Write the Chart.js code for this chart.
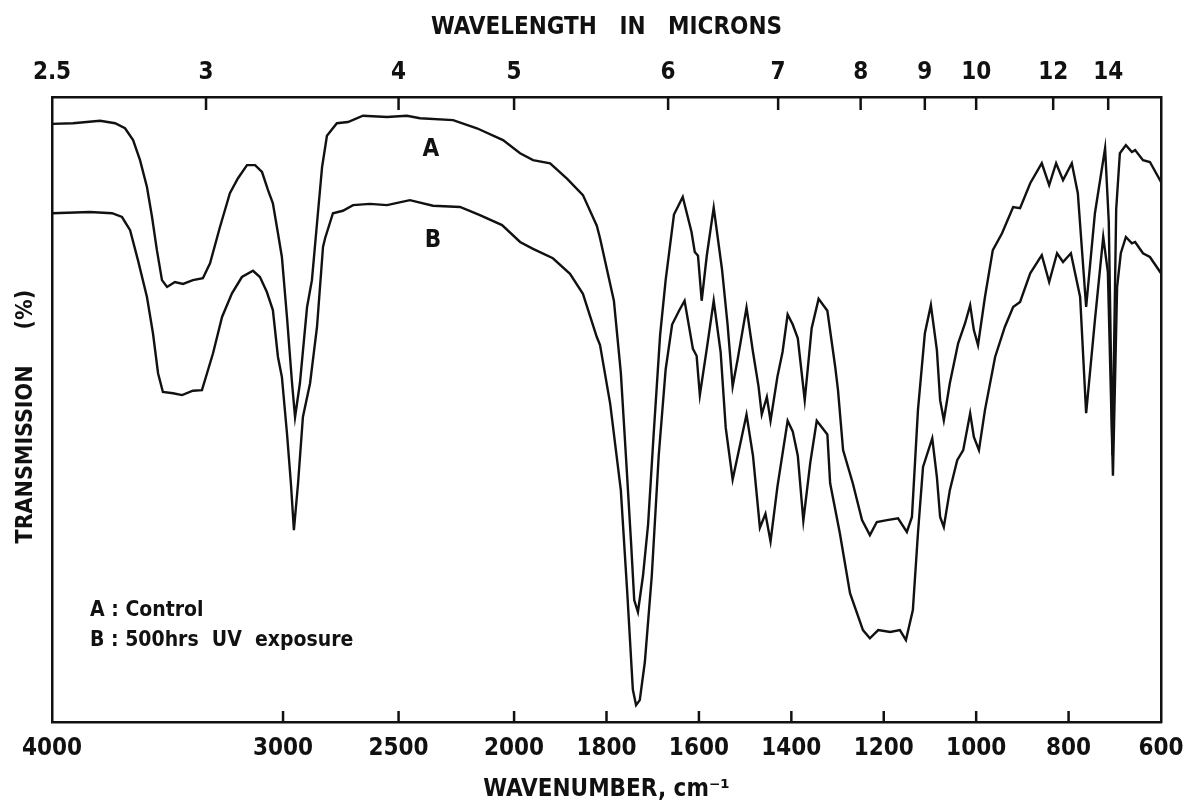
<!DOCTYPE html>
<html>
<head>
<meta charset="utf-8">
<script src="https://cdn.jsdelivr.net/npm/chart.js@4.4.0/dist/chart.umd.min.js"></script>
<style>
    html, body { margin: 0; padding: 0; background: #fff; }
    #wrap { width: 1186px; height: 812px; }
</style>
</head>
<body>
<div id="wrap"><canvas id="irChart" width="1186" height="812"></canvas></div>
<script>
// Axis ticks
const wavenumberTicks = [4000, 3000, 2500, 2000, 1800, 1600, 1400, 1200, 1000, 800, 600];
const micronTicks = [2.5, 3, 4, 5, 6, 7, 8, 9, 10, 12, 14];

// Curve A : control (wavenumber cm-1, transmission %)
const wavenumbersA = [4000, 3909, 3792, 3727, 3684, 3649, 3619, 3589, 3567, 3546, 3524, 3502, 3468, 3433, 3390, 3347,
    3316, 3273, 3230, 3195, 3156, 3121, 3091, 3065, 3044, 3022, 3005, 2983, 2961, 2948, 2927, 2896, 2875, 2853, 2831,
    2810, 2767, 2719, 2654, 2550, 2464, 2407, 2264, 2161, 2048, 1987, 1959, 1922, 1885, 1851, 1821, 1814, 1784, 1769,
    1758, 1747, 1740, 1732, 1721, 1710, 1698, 1684, 1672, 1654, 1635, 1616, 1609, 1602, 1594, 1583, 1568, 1550, 1538,
    1527, 1516, 1497, 1483, 1471, 1464, 1453, 1445, 1430, 1419, 1408, 1397, 1386, 1371, 1356, 1341, 1322, 1305, 1299,
    1288, 1267, 1247, 1230, 1215, 1193, 1169, 1150, 1139, 1126, 1111, 1098, 1085, 1078, 1070, 1057, 1039, 1024, 1013,
    1005, 996, 981, 964, 944, 920, 905, 883, 858, 842, 827, 812, 793, 780, 762, 743, 721, 713, 705, 697, 689, 676, 663,
    656, 639, 624, 600];
const transmissionA = [95.7, 95.8, 96.2, 95.8, 95.0, 93.1, 89.9, 85.6, 80.8, 75.5, 70.7, 69.6, 70.4, 70.1, 70.7, 71.0,
    73.4, 79.2, 84.6, 87.0, 89.1, 89.1, 88.0, 85.1, 83.0, 78.2, 74.4, 64.8, 54.2, 48.8, 54.2, 66.4, 70.7, 79.8, 88.8,
    93.8, 95.8, 96.0, 97.0, 96.8, 97.0, 96.6, 96.3, 95.0, 93.1, 91.0, 89.9, 89.4, 86.9, 84.3, 79.4, 77.4, 67.4, 55.9,
    42.6, 28.9, 19.5, 17.6, 23.4, 31.6, 46.0, 61.9, 70.7, 81.2, 84.0, 78.4, 75.2, 74.6, 67.4, 74.6, 82.3, 72.4, 63.6,
    53.7, 58.1, 66.3, 59.2, 53.7, 49.2, 52.0, 48.2, 55.3, 59.2, 65.2, 63.6, 61.4, 51.5, 63.0, 67.7, 65.8, 56.8, 53.1,
    43.5, 38.2, 32.3, 29.9, 32.0, 32.3, 32.6, 30.4, 32.8, 49.9, 62.2, 66.7, 59.5, 51.5, 48.3, 54.2, 60.6, 63.8, 66.7,
    62.7, 60.3, 68.0, 75.5, 78.2, 82.4, 82.2, 86.2, 89.4, 85.9, 89.4, 86.7, 89.4, 84.6, 66.4, 81.4, 91.8, 80.0, 42.7,
    82.0, 91.0, 92.3, 91.2, 91.5, 89.9, 89.6, 86.4];

// Curve B : 500 hrs UV exposure
const wavenumbersB = [4000, 3836, 3740, 3697, 3662, 3628, 3589, 3563, 3541, 3520, 3476, 3437, 3390, 3351, 3329, 3303,
    3264, 3221, 3178, 3130, 3100, 3070, 3044, 3022, 3005, 2983, 2966, 2953, 2935, 2914, 2883, 2853, 2827, 2818, 2784,
    2741, 2697, 2624, 2550, 2451, 2351, 2234, 2148, 2052, 1987, 1959, 1916, 1879, 1851, 1821, 1814, 1792, 1769, 1755,
    1743, 1736, 1728, 1717, 1702, 1687, 1672, 1658, 1643, 1631, 1613, 1605, 1598, 1583, 1568, 1553, 1542, 1527, 1516,
    1497, 1483, 1468, 1456, 1445, 1430, 1408, 1397, 1386, 1374, 1359, 1345, 1322, 1316, 1295, 1273, 1245, 1230, 1212,
    1186, 1165, 1152, 1137, 1126, 1115, 1095, 1085, 1078, 1070, 1057, 1041, 1028, 1013, 1005, 994, 981, 959, 938, 920,
    905, 883, 858, 842, 825, 812, 795, 775, 762, 743, 725, 715, 704, 695, 687, 676, 663, 656, 639, 624, 600];
const transmissionB = [81.4, 81.6, 81.4, 80.8, 78.7, 73.9, 68.0, 62.2, 55.8, 52.8, 52.6, 52.3, 53.0, 53.1, 55.8, 59.0,
    64.8, 68.6, 71.2, 72.2, 71.2, 68.8, 65.9, 58.4, 55.2, 46.2, 38.2, 30.7, 38.2, 48.8, 54.2, 63.2, 76.0, 77.4, 81.4,
    81.8, 82.7, 82.9, 82.7, 83.5, 82.6, 82.4, 81.1, 79.5, 76.8, 75.7, 74.2, 71.7, 68.5, 61.6, 60.3, 50.9, 37.1, 20.6,
    5.2, 2.7, 3.5, 9.6, 23.4, 42.6, 56.4, 63.6, 65.8, 67.4, 59.7, 58.6, 52.3, 59.7, 67.4, 59.2, 47.1, 38.8, 42.6,
    49.2, 42.6, 31.1, 33.3, 28.9, 37.7, 48.2, 46.5, 42.6, 32.2, 41.5, 48.2, 46.0, 38.2, 30.2, 20.6, 14.7, 13.4, 14.7,
    14.4, 14.7, 13.1, 17.9, 30.2, 40.8, 45.4, 39.2, 32.8, 31.2, 37.1, 41.9, 43.5, 49.4, 45.6, 43.5, 49.9, 58.4, 63.2, 66.4,
    67.2, 71.8, 74.7, 70.4, 75.0, 73.6, 75.0, 68.0, 49.4, 64.3, 77.6, 72.0, 39.4, 69.6, 75.0, 77.6, 76.6, 76.8, 75.0, 74.4, 71.8];

const legendLines = ['A : Control', 'B : 500hrs  UV  exposure'];

const FONT = "'Liberation Sans Narrow', 'DejaVu Sans Condensed', 'Liberation Sans', sans-serif";
const INK = '#111';

// the spectrometer doubles the scale below 2000 cm-1
function toAxis(w) {
    return w >= 2000 ? (4000 - w) / 2 : 1000 + (2000 - w);
}

function toPoints(ws, ts) {
    return ws.map((w, i) => ({ x: toAxis(w), y: ts[i] }));
}

// ticks pointing into the plot, and the text inside the frame
const spectrumDecor = {
    id: 'spectrumDecor',
    afterDraw(chart) {
        const ctx = chart.ctx;
        const area = chart.chartArea;
        const xs = chart.scales.x;
        const xt = chart.scales.x2;
        const ys = chart.scales.y;
        ctx.save();
        ctx.strokeStyle = INK;
        ctx.lineWidth = 2.5;
        xs.ticks.forEach(t => {
            const px = xs.getPixelForValue(t.value);
            if (px <= area.left + 2 || px >= area.right - 2) return;
            ctx.beginPath();
            ctx.moveTo(px, area.bottom);
            ctx.lineTo(px, area.bottom - 11);
            ctx.stroke();
        });
        xt.ticks.forEach(t => {
            const px = xt.getPixelForValue(t.value);
            if (px <= area.left + 2 || px >= area.right - 2) return;
            ctx.beginPath();
            ctx.moveTo(px, area.top);
            ctx.lineTo(px, area.top + 13);
            ctx.stroke();
        });

        ctx.fillStyle = INK;
        ctx.textBaseline = 'middle';
        ctx.textAlign = 'center';
        ctx.font = 'bold 24px ' + FONT;
        ctx.fillText('A', xs.getPixelForValue(toAxis(2360)), ys.getPixelForValue(91.5));
        ctx.fillText('B', xs.getPixelForValue(toAxis(2351)), ys.getPixelForValue(77));

        ctx.textAlign = 'left';
        ctx.font = 'bold 21px ' + FONT;
        ctx.fillText(legendLines[0], xs.getPixelForValue(toAxis(3835)), ys.getPixelForValue(17.9));
        ctx.fillText(legendLines[1], xs.getPixelForValue(toAxis(3835)), ys.getPixelForValue(13));
        ctx.restore();
    }
};

const tickFont = { family: FONT, size: 24, weight: 'bold' };
const titleFont = { family: FONT, size: 24, weight: 'bold' };
const frame = { display: true, color: INK, width: 2.5 };
const noGrid = { drawOnChartArea: false, drawTicks: false };

// keep the frame where it is even though the end labels hang over it
function fixHeight(h) {
    return s => {
        s.height = h;
        s.paddingLeft = 0;
        s.paddingRight = 0;
    };
}

new Chart(document.getElementById('irChart'), {
    type: 'line',
    data: {
        datasets: [{
            label: 'A',
            data: toPoints(wavenumbersA, transmissionA),
            borderColor: INK,
            borderWidth: 2.4,
            pointRadius: 0,
            tension: 0
        }, {
            label: 'B',
            data: toPoints(wavenumbersB, transmissionB),
            borderColor: INK,
            borderWidth: 2.4,
            pointRadius: 0,
            tension: 0
        }]
    },
    options: {
        responsive: false,
        devicePixelRatio: 1,
        animation: false,
        layout: { padding: 0 },
        plugins: {
            legend: { display: false },
            tooltip: { enabled: false }
        },
        scales: {
            x: {
                type: 'linear',
                position: 'bottom',
                min: 0,
                max: 2400,
                afterBuildTicks: s => { s.ticks = wavenumberTicks.map(w => ({ value: toAxis(w) })); },
                ticks: {
                    autoSkip: false,
                    maxRotation: 0,
                    padding: 12,
                    color: INK,
                    font: tickFont,
                    callback: (v, i) => wavenumberTicks[i]
                },
                grid: noGrid,
                border: frame,
                title: {
                    display: true,
                    text: 'WAVENUMBER, cm\u207B\u00B9',
                    color: INK,
                    font: titleFont,
                    padding: { top: 0, bottom: 8 }
                },
                afterFit: fixHeight(90)
            },
            x2: {
                type: 'linear',
                position: 'top',
                min: 0,
                max: 2400,
                afterBuildTicks: s => { s.ticks = micronTicks.map(m => ({ value: toAxis(10000 / m) })); },
                ticks: {
                    autoSkip: false,
                    maxRotation: 0,
                    padding: 10,
                    color: INK,
                    font: tickFont,
                    callback: (v, i) => micronTicks[i]
                },
                grid: noGrid,
                border: frame,
                title: {
                    display: true,
                    text: 'WAVELENGTH   IN   MICRONS',
                    color: INK,
                    font: titleFont,
                    padding: { top: 13, bottom: 0 }
                },
                afterFit: fixHeight(97)
            },
            y: {
                position: 'left',
                min: 0,
                max: 100,
                ticks: { display: false },
                grid: noGrid,
                border: frame,
                title: {
                    display: true,
                    text: 'TRANSMISSION     (%)  ',
                    color: INK,
                    font: { family: FONT, size: 23, weight: 'bold' },
                    padding: { top: 12, bottom: 0 }
                },
                afterFit: s => { s.width = 52; }
            },
            y2: {
                position: 'right',
                display: true,
                min: 0,
                max: 100,
                ticks: { display: false },
                grid: noGrid,
                border: frame,
                afterFit: s => { s.width = 25; }
            }
        }
    },
    plugins: [spectrumDecor]
});
</script>
</body>
</html>
